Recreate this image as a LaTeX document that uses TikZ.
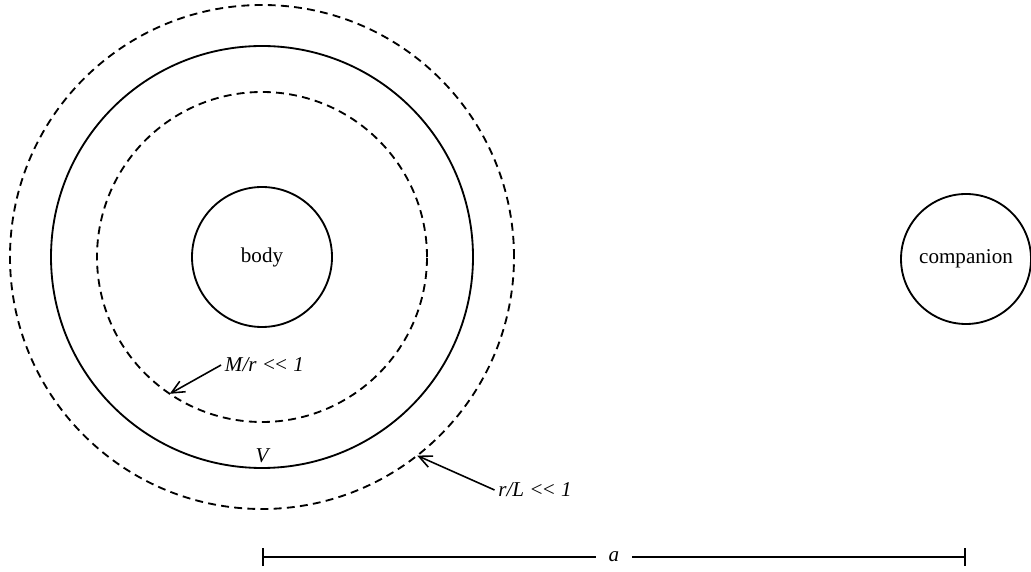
\documentclass[tikz,border=0pt]{standalone}
\usepackage{fontspec}
\setmainfont{Liberation Serif}
\usetikzlibrary{arrows.meta,positioning}
\tikzset{
  shell/.style={draw, circle, line width=1.05pt, inner sep=0pt, outer sep=0pt, align=center},
  bound/.style={shell, dash pattern=on 4.5pt off 3pt},
  lbl/.style={font=\fontsize{12}{14}\selectfont\itshape, inner sep=2pt},
  pointer/.style={-{Straight Barb[length=2.6mm,width=2.4mm]}, line width=0.9pt},
  sep/.style={{Bar[width=3.6mm]}-{Bar[width=3.6mm]}, line width=1.05pt}
}
\newcommand{\muchless}{<\kern-1.2pt<}
\begin{document}
\begin{tikzpicture}[
  font=\fontsize{12}{14}\selectfont,
  node distance=1pt
]
\useasboundingbox (-5.24,5.14) rectangle (15.38,-6.30);
\node[shell, minimum size=2.8cm] (body) at (0,0) {body};
\node[bound, minimum size=6.6cm] (inner) at (body) {};
\node[shell, minimum size=8.44cm] (vsurf) at (body) {};
\node[bound, minimum size=10.08cm] (outer) at (body) {};
\node[shell, minimum size=2.6cm] (comp) at (14.08,-0.04) {companion};

\node[lbl] (weak) at (0.05,-2.16) {M/r \muchless{} 1};
\draw[pointer] (weak.west) -- (inner.236);
\node[lbl] (tidal) at (5.46,-4.66) {r/L \muchless{} 1};
\draw[pointer] (tidal.west) -- (outer.-52);
\node[lbl, above=of vsurf.south] (vol) {V};

\coordinate (sepL) at (body.center |- 0,-6.0);
\coordinate (sepR) at (comp.center |- 0,-6.0);
\draw[sep] (sepL) -- node[lbl, fill=white, inner xsep=7pt] (dist) {a} (sepR);
\end{tikzpicture}
\end{document}
